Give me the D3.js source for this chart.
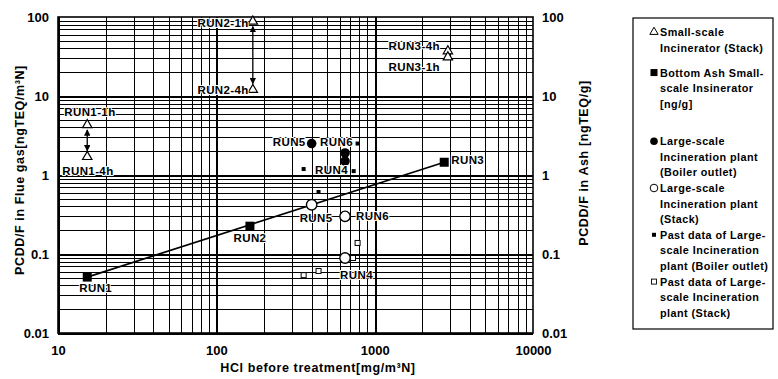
<!DOCTYPE html>
<html>
<head>
<meta charset="utf-8">
<script src="https://cdn.jsdelivr.net/npm/d3@7"></script>
<style>
body { margin: 0; background: #fff; }
svg { display: block; font-family: "Liberation Sans", Arial, sans-serif; }
</style>
</head>
<body>
<svg id="chart" width="778" height="379"></svg>
<script>
// values (x = HCl mg/m3N, y = PCDD/F)
const xTicks = [10, 100, 1000, 10000];
const yTicks = [0.01, 0.1, 1, 10, 100];

// small-scale incinerator, stack (open triangles)
const smallStack = [
    { run: "RUN1-1h", hcl: 15.3, v: 4.3 },
    { run: "RUN1-4h", hcl: 15.3, v: 1.7 },
    { run: "RUN2-1h", hcl: 170, v: 88 },
    { run: "RUN2-4h", hcl: 170, v: 12 },
    { run: "RUN3-4h", hcl: 2900, v: 37 },
    { run: "RUN3-1h", hcl: 2900, v: 31 }
];
// bottom ash of small-scale incinerator [ng/g] (filled squares)
const bottomAsh = [
    { run: "RUN1", hcl: 15.3, v: 0.051 },
    { run: "RUN2", hcl: 163, v: 0.225 },
    { run: "RUN3", hcl: 2750, v: 1.45 }
];
// large-scale plant, boiler outlet (filled circles)
const largeBoiler = [
    { run: "RUN5", hcl: 400, v: 2.5 },
    { run: "RUN6", hcl: 650, v: 1.9 },
    { run: "RUN4", hcl: 650, v: 1.5 }
];
// large-scale plant, stack (open circles)
const largeStack = [
    { run: "RUN5", hcl: 400, v: 0.42 },
    { run: "RUN6", hcl: 650, v: 0.30 },
    { run: "RUN4", hcl: 650, v: 0.089 }
];
// past data of large-scale plants
const pastBoiler = [
    { hcl: 356, v: 1.19 },
    { hcl: 780, v: 2.5 },
    { hcl: 737, v: 1.12 },
    { hcl: 442, v: 0.61 }
];
const pastStack = [
    { hcl: 780, v: 0.138 },
    { hcl: 730, v: 0.089 },
    { hcl: 356, v: 0.054 },
    { hcl: 442, v: 0.061 }
];

const legendItems = [
    { sym: "tri", lines: ["Small-scale", "Incinerator (Stack)"] },
    { sym: "sq", lines: ["Bottom Ash Small-", "scale Insinerator", "[ng/g]"] },
    { sym: "dot", lines: ["Large-scale", "Incineration plant", "(Boiler outlet)"] },
    { sym: "ring", lines: ["Large-scale", "Incineration plant", "(Stack)"] },
    { sym: "psq", lines: ["Past data of Large-", "scale Incineration", "plant (Boiler outlet)"] },
    { sym: "posq", lines: ["Past data of Large-", "scale Incineration", "plant (Stack)"] }
];

var svg = d3.select("#chart");
var pl = 58, pr = 533, pt = 17, pb = 333;

var x = d3.scaleLog().domain([10, 10000]).range([pl, pr]);
var y = d3.scaleLog().domain([0.01, 100]).range([pb, pt]);

// log-paper grid
var xGrid = [], yGrid = [];
for (var e = 1; e < 4; e++) for (var k = 1; k < 10; k++) xGrid.push(k * Math.pow(10, e));
for (var e = -2; e < 2; e++) for (var k = 1; k < 10; k++) yGrid.push(k * Math.pow(10, e));

var grid = svg.append("g").attr("stroke", "#000").attr("shape-rendering", "crispEdges");
grid.selectAll("line.vx")
    .data(xGrid)
    .enter().append("line")
    .attr("x1", d => Math.round(x(d)) + 0.5).attr("x2", d => Math.round(x(d)) + 0.5)
    .attr("y1", pt).attr("y2", pb)
    .attr("stroke-width", d => xTicks.includes(d) ? 2 : 1);
grid.selectAll("line.hy")
    .data(yGrid)
    .enter().append("line")
    .attr("y1", d => Math.round(y(d)) + 0.5).attr("y2", d => Math.round(y(d)) + 0.5)
    .attr("x1", pl).attr("x2", pr)
    .attr("stroke-width", d => yTicks.includes(d) ? 2 : 1);

svg.append("rect")
    .attr("x", pl).attr("y", pt)
    .attr("width", pr - pl).attr("height", pb - pt)
    .attr("fill", "none").attr("stroke", "#000").attr("stroke-width", 1.6);

// axes
var fmt = d => String(d);
var xAxis = svg.append("g")
    .attr("transform", "translate(0," + pb + ")")
    .call(d3.axisBottom(x).tickValues(xTicks).tickFormat(fmt).tickSize(0).tickPadding(13));
var yAxisL = svg.append("g")
    .attr("transform", "translate(" + pl + ",0)")
    .call(d3.axisLeft(y).tickValues(yTicks).tickFormat(fmt).tickSize(0).tickPadding(9));
var yAxisR = svg.append("g")
    .attr("transform", "translate(" + pr + ",0)")
    .call(d3.axisRight(y).tickValues(yTicks).tickFormat(fmt).tickSize(0).tickPadding(9));
[xAxis, yAxisL, yAxisR].forEach(a => {
    a.select(".domain").remove();
    a.selectAll("text")
        .attr("font-family", "Liberation Sans, Arial, sans-serif")
        .attr("font-size", "13px")
        .attr("font-weight", "bold")
        .attr("fill", "#000");
});

// axis titles
var titleStyle = sel => sel
    .attr("text-anchor", "middle")
    .attr("font-size", "12.5px").attr("font-weight", "bold")
    .attr("letter-spacing", "0.6px");
svg.append("text")
    .attr("x", 318).attr("y", 372)
    .call(titleStyle)
    .text("HCl before treatment[mg/m³N]");
svg.append("text")
    .attr("transform", "translate(24,170) rotate(-90)")
    .call(titleStyle)
    .text("PCDD/F in Flue gas[ngTEQ/m³N]");
svg.append("text")
    .attr("transform", "translate(588,163) rotate(-90)")
    .call(titleStyle)
    .text("PCDD/F in Ash [ngTEQ/g]");

// arrow markers between 1h / 4h triangles
svg.append("defs").append("marker")
    .attr("id", "arr")
    .attr("viewBox", "0 0 10 10")
    .attr("refX", 9).attr("refY", 5)
    .attr("markerWidth", 5).attr("markerHeight", 5)
    .attr("orient", "auto-start-reverse")
    .append("path").attr("d", "M0,0L10,5L0,10Z").attr("fill", "#000");

var arrowPairs = [[smallStack[0], smallStack[1]], [smallStack[2], smallStack[3]]];
svg.selectAll("line.arrow")
    .data(arrowPairs)
    .enter().append("line")
    .attr("x1", d => x(d[0].hcl)).attr("x2", d => x(d[0].hcl))
    .attr("y1", d => y(d[0].v) + 5)
    .attr("y2", d => y(d[1].v) - 6)
    .attr("stroke", "#000").attr("stroke-width", 1.3)
    .attr("marker-start", "url(#arr)")
    .attr("marker-end", "url(#arr)");

// regression line through bottom ash points
svg.append("line")
    .attr("x1", x(bottomAsh[0].hcl)).attr("y1", y(bottomAsh[0].v))
    .attr("x2", x(bottomAsh[2].hcl)).attr("y2", y(bottomAsh[2].v))
    .attr("stroke", "#000").attr("stroke-width", 1.7);

// marks
var tri = d3.symbol().type(d3.symbolTriangle).size(38);
svg.selectAll("path.tri")
    .data(smallStack)
    .enter().append("path")
    .attr("transform", d => "translate(" + x(d.hcl) + "," + y(d.v) + ")")
    .attr("d", tri)
    .attr("fill", "#fff").attr("stroke", "#000").attr("stroke-width", 1.2);

svg.selectAll("rect.ash")
    .data(bottomAsh)
    .enter().append("rect")
    .attr("x", d => x(d.hcl) - 4.5).attr("y", d => y(d.v) - 4.5)
    .attr("width", 9).attr("height", 9)
    .attr("fill", "#000");

svg.selectAll("circle.boiler")
    .data(largeBoiler)
    .enter().append("circle")
    .attr("cx", d => x(d.hcl)).attr("cy", d => y(d.v))
    .attr("r", 4.8).attr("fill", "#000");

svg.selectAll("circle.stack")
    .data(largeStack)
    .enter().append("circle")
    .attr("cx", d => x(d.hcl)).attr("cy", d => y(d.v))
    .attr("r", 5.2).attr("fill", "#fff")
    .attr("stroke", "#000").attr("stroke-width", 1.4);

svg.selectAll("rect.pb")
    .data(pastBoiler)
    .enter().append("rect")
    .attr("x", d => x(d.hcl) - 2).attr("y", d => y(d.v) - 2)
    .attr("width", 4).attr("height", 4)
    .attr("fill", "#000");

svg.selectAll("rect.ps")
    .data(pastStack)
    .enter().append("rect")
    .attr("x", d => x(d.hcl) - 2.5).attr("y", d => y(d.v) - 2.5)
    .attr("width", 5).attr("height", 5)
    .attr("fill", "#fff").attr("stroke", "#000").attr("stroke-width", 1);

// run labels: offsets from their mark [dx, dy, anchor]
var labelPos = {
    "tri:RUN1-1h": [-23, -13, "start"],
    "tri:RUN1-4h": [-25, 14, "start"],
    "tri:RUN2-1h": [-4, 2, "end"],
    "tri:RUN2-4h": [-4, 0, "end"],
    "tri:RUN3-4h": [-8, -5, "end"],
    "tri:RUN3-1h": [-8, 10, "end"],
    "ash:RUN1": [-8, 11, "start"],
    "ash:RUN2": [0, 12, "middle"],
    "ash:RUN3": [7, -2, "start"],
    "boiler:RUN5": [-6, -2, "end"],
    "boiler:RUN6": [-25, -11, "start"],
    "boiler:RUN4": [-30, 9, "start"],
    "stack:RUN5": [-12, 13, "start"],
    "stack:RUN6": [11, 0, "start"],
    "stack:RUN4": [-5, 17, "start"]
};
var labelled = []
    .concat(smallStack.map(d => ({ key: "tri:" + d.run, d: d })))
    .concat(bottomAsh.map(d => ({ key: "ash:" + d.run, d: d })))
    .concat(largeBoiler.map(d => ({ key: "boiler:" + d.run, d: d })))
    .concat(largeStack.map(d => ({ key: "stack:" + d.run, d: d })));

svg.selectAll("text.run")
    .data(labelled)
    .enter().append("text")
    .attr("x", l => x(l.d.hcl) + labelPos[l.key][0])
    .attr("y", l => y(l.d.v) + labelPos[l.key][1])
    .attr("text-anchor", l => labelPos[l.key][2])
    .attr("dominant-baseline", "central")
    .attr("font-size", "11.5px").attr("font-weight", "bold")
    .attr("letter-spacing", "0.4px")
    .attr("stroke", "#fff").attr("stroke-width", 2).attr("paint-order", "stroke")
    .text(l => l.d.run);

// legend
var lg = svg.append("g");
lg.append("rect")
    .attr("x", 633).attr("y", 18).attr("width", 140).attr("height", 311)
    .attr("fill", "#fff").attr("stroke", "#000").attr("stroke-width", 1.2);

var lineH = 15.6;
var gapsBefore = [0, 1.6, 2.4, 1, 1, 1];
var rowY = [], acc = 0;
legendItems.forEach((item, i) => {
    acc += i === 0 ? 0 : gapsBefore[i];
    rowY.push(32 + acc * lineH);
    acc += item.lines.length - 1;
});

legendItems.forEach((item, i) => {
    var cy = rowY[i], cx = 654;
    if (item.sym === "tri") {
        lg.append("path").attr("transform", "translate(" + cx + "," + cy + ")")
            .attr("d", d3.symbol().type(d3.symbolTriangle).size(30))
            .attr("fill", "#fff").attr("stroke", "#000").attr("stroke-width", 1);
    } else if (item.sym === "sq") {
        lg.append("rect").attr("x", cx - 3.5).attr("y", cy - 3.5).attr("width", 7).attr("height", 7).attr("fill", "#000");
    } else if (item.sym === "dot") {
        lg.append("circle").attr("cx", cx).attr("cy", cy).attr("r", 3.8).attr("fill", "#000");
    } else if (item.sym === "ring") {
        lg.append("circle").attr("cx", cx).attr("cy", cy).attr("r", 3.8)
            .attr("fill", "#fff").attr("stroke", "#000").attr("stroke-width", 1);
    } else if (item.sym === "psq") {
        lg.append("rect").attr("x", cx - 2).attr("y", cy - 2).attr("width", 4).attr("height", 4).attr("fill", "#000");
    } else {
        lg.append("rect").attr("x", cx - 2.5).attr("y", cy - 2.5).attr("width", 5).attr("height", 5)
            .attr("fill", "#fff").attr("stroke", "#000").attr("stroke-width", 0.9);
    }
    item.lines.forEach((t, j) => {
        lg.append("text")
            .attr("x", 660).attr("y", cy + j * lineH)
            .attr("dominant-baseline", "central")
            .attr("font-size", "10.8px").attr("font-weight", "bold")
            .attr("letter-spacing", "0.45px")
            .text(t);
    });
});
</script>
</body>
</html>
